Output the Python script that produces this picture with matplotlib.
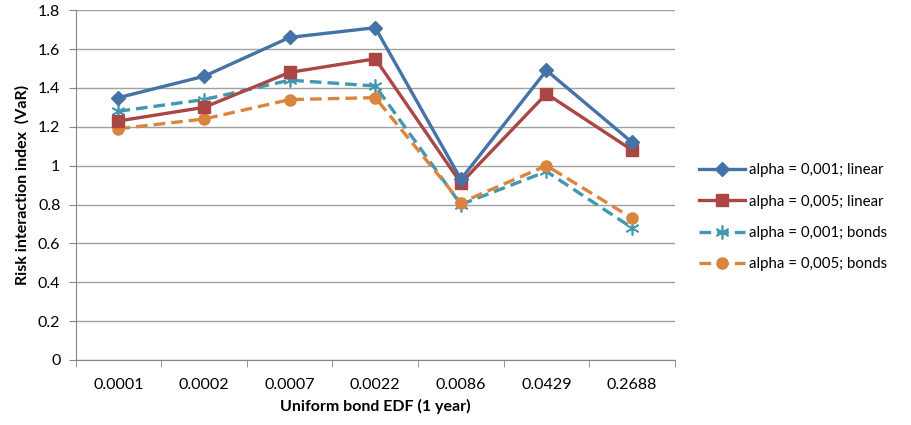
import numpy as np
import matplotlib.pyplot as plt
from matplotlib.ticker import FixedLocator, NullFormatter

plt.rcParams['font.family'] = ['Lato', 'DejaVu Sans']

edf = ['0.0001', '0.0002', '0.0007', '0.0022', '0.0086', '0.0429', '0.2688']
lin_001 = [1.35, 1.46, 1.66, 1.71, 0.93, 1.49, 1.12]
lin_005 = [1.23, 1.30, 1.48, 1.55, 0.91, 1.37, 1.08]
bonds_001 = [1.28, 1.34, 1.44, 1.41, 0.80, 0.97, 0.68]
bonds_005 = [1.19, 1.24, 1.34, 1.35, 0.81, 1.00, 0.73]

x = np.arange(len(edf))

fig = plt.figure(figsize=(9.12, 4.25), dpi=100)
ax = fig.add_axes([0.083, 0.153, 0.657, 0.823])

ax.plot(x, lin_001, '-', color='#4572A7', lw=2.4, marker='D', ms=7,
        label='alpha = 0,001; linear', zorder=5)
ax.plot(x, lin_005, '-', color='#AA4643', lw=2.4, marker='s', ms=8,
        label='alpha = 0,005; linear', zorder=4)
ax.plot(x, bonds_001, '--', color='#4198AF', lw=2.4, marker=(6, 2, 0), ms=10,
        mew=1.2, dashes=(3.5, 1.8), label='alpha = 0,001; bonds', zorder=3)
ax.plot(x, bonds_005, '--', color='#DB843D', lw=2.4, marker='o', ms=8,
        dashes=(3.5, 1.8), label='alpha = 0,005; bonds', zorder=3)

ax.set_xlim(-0.5, len(edf) - 0.5)
ax.set_ylim(0, 1.8)
ax.set_yticks(np.arange(0, 1.81, 0.2))
ax.set_yticklabels(['0', '0.2', '0.4', '0.6', '0.8', '1', '1.2', '1.4', '1.6', '1.8'])
ax.set_xticks(x)
ax.set_xticklabels(edf)
ax.xaxis.set_minor_locator(FixedLocator(np.arange(-0.5, len(edf), 1)))
ax.xaxis.set_minor_formatter(NullFormatter())
ax.tick_params(axis='x', which='major', length=0, pad=13, labelsize=11.5)
ax.tick_params(axis='x', which='minor', length=5, color='#868686')
ax.tick_params(axis='y', length=5, color='#868686', labelsize=11.5, pad=6)

ax.grid(axis='y', color='#A0A0A0', lw=1)
ax.set_axisbelow(True)
for s in ['top', 'right']:
    ax.spines[s].set_visible(False)
for s in ['left', 'bottom']:
    ax.spines[s].set_color('#868686')

ax.set_xlabel('Uniform bond EDF (1 year)', fontsize=11.5, fontweight='bold', labelpad=5)
ax.set_ylabel('Risk interaction index  (VaR)', fontsize=11.5, fontweight='bold', labelpad=6)

ax.legend(loc='center left', bbox_to_anchor=(0.766, 0.489), bbox_transform=fig.transFigure,
          borderpad=0, borderaxespad=0, frameon=False,
          fontsize=10.8, handlelength=3.1, labelspacing=1.15, handletextpad=0.25)

fig.savefig('out.png', dpi=100)
